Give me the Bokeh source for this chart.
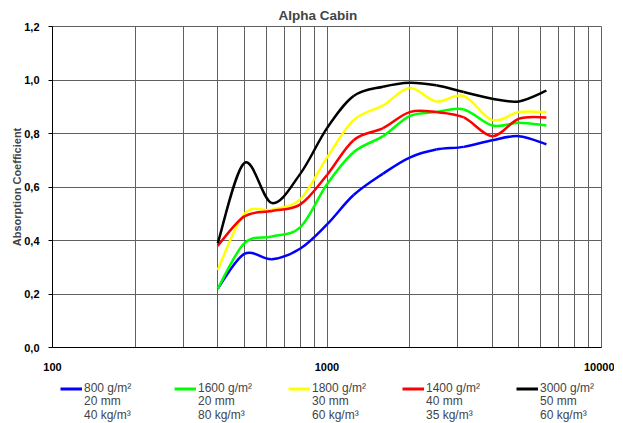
import numpy as np
from bokeh.plotting import figure
from bokeh.layouts import column
from bokeh.models import (ColumnDataSource, Legend, LegendItem, FixedTicker, LogTicker,
                          CustomJSTickFormatter, Range1d)
from bokeh.embed import file_html
from bokeh.resources import INLINE

# ---- data ----
freqs = [400, 500, 630, 800, 1000, 1250, 1600, 2000, 2500, 3150, 4000, 5000, 6300]
s800 = [0.22, 0.35, 0.33, 0.37, 0.46, 0.57, 0.65, 0.71, 0.74, 0.75, 0.775, 0.79, 0.76]
s1600 = [0.22, 0.39, 0.415, 0.45, 0.61, 0.73, 0.79, 0.865, 0.88, 0.89, 0.83, 0.84, 0.83]
s1800 = [0.29, 0.50, 0.515, 0.555, 0.71, 0.85, 0.905, 0.97, 0.92, 0.94, 0.85, 0.88, 0.88]
s1400 = [0.38, 0.49, 0.51, 0.535, 0.645, 0.775, 0.82, 0.88, 0.88, 0.86, 0.79, 0.855, 0.86]
s3000 = [0.39, 0.69, 0.54, 0.65, 0.82, 0.94, 0.975, 0.99, 0.98, 0.955, 0.93, 0.92, 0.96]

series_names = ["800 g/m²", "1600 g/m²", "1800 g/m²", "1400 g/m²", "3000 g/m²"]
series_thickness = ["20 mm", "20 mm", "30 mm", "40 mm", "50 mm"]
series_density = ["40 kg/m³", "80 kg/m³", "60 kg/m³", "35 kg/m³", "60 kg/m³"]
series_values = [s800, s1600, s1800, s1400, s3000]
series_colors = ["#0000FF", "#00FF00", "#FFFF00", "#FF0000", "#000000"]

y_ticks = [0, 0.2, 0.4, 0.6, 0.8, 1.0, 1.2]
title_text = "Alpha Cabin"
y_label = "Absorption Coefficient"

FONT = "Liberation Sans"
GRID = "#606060"
LW = 2.5


def smooth_source(xs, ys):
    """Catmull-Rom style bezier control points (computed in log-x space)."""
    lx = np.log10(np.asarray(xs, dtype=float))
    y = np.asarray(ys, dtype=float)
    n = len(lx)
    px = np.concatenate([[lx[0]], lx, [lx[-1]]])
    py = np.concatenate([[y[0]], y, [y[-1]]])
    cx0 = lx[:-1] + (px[2:n + 1] - px[0:n - 1]) / 6
    cy0 = y[:-1] + (py[2:n + 1] - py[0:n - 1]) / 6
    cx1 = lx[1:] - (px[3:n + 2] - px[1:n]) / 6
    cy1 = y[1:] - (py[3:n + 2] - py[1:n]) / 6
    return ColumnDataSource(dict(
        x0=10 ** lx[:-1], y0=y[:-1], x1=10 ** lx[1:], y1=y[1:],
        cx0=10 ** cx0, cy0=cy0, cx1=10 ** cx1, cy1=cy1))


p = figure(x_axis_type="log", x_range=Range1d(100, 10000), y_range=Range1d(0, 1.2),
           frame_width=549, frame_height=321, output_backend="svg", toolbar_location=None,
           min_border_left=52, min_border_right=13, min_border_top=26, min_border_bottom=24,
           background_fill_color="white", border_fill_color="white")

p.title.text = title_text
p.title.text_font = FONT
p.title.text_font_size = "13.5px"
p.title.text_font_style = "bold"
p.title.align = "left"
p.title.offset = 226
p.title.standoff = 7

# grids
p.xaxis.ticker = LogTicker(num_minor_ticks=10)
p.xgrid.ticker = p.xaxis.ticker
p.xgrid.grid_line_color = GRID
p.xgrid.minor_grid_line_color = GRID
p.xgrid.grid_line_alpha = 1
p.yaxis.ticker = FixedTicker(ticks=y_ticks)
p.ygrid.ticker = FixedTicker(ticks=y_ticks)
p.ygrid.grid_line_color = GRID
p.outline_line_color = GRID

# axes
for ax in (p.xaxis[0], p.yaxis[0]):
    ax.axis_line_color = "black"
    ax.major_label_text_font = FONT
    ax.major_label_text_font_size = "11px"
    ax.major_label_text_font_style = "bold"
    ax.major_label_text_color = "black"
    ax.minor_tick_line_color = None
    ax.major_tick_in = 0

p.xaxis.major_tick_out = 0
p.xaxis.major_label_standoff = 11
p.xaxis.formatter = CustomJSTickFormatter(code="return tick.toFixed(0)")

p.yaxis.major_tick_out = 4
p.yaxis.major_tick_line_color = "black"
p.yaxis.major_label_standoff = 9
p.yaxis.formatter = CustomJSTickFormatter(code="return tick.toFixed(1).replace('.', ',')")
p.yaxis.axis_label = y_label
p.yaxis.axis_label_text_font = FONT
p.yaxis.axis_label_text_font_size = "11px"
p.yaxis.axis_label_text_font_style = "bold"
p.yaxis.axis_label_standoff = -2

for vals, col in zip(series_values, series_colors):
    src = smooth_source(freqs, vals)
    p.bezier(x0="x0", y0="y0", x1="x1", y1="y1", cx0="cx0", cy0="cy0",
             cx1="cx1", cy1="cy1", source=src, line_color=col, line_width=LW)

# ---- legend strip below the chart (its lines lie outside its own view) ----
lg = figure(width=614, height=49, x_range=Range1d(0, 1), y_range=Range1d(0, 1),
            x_axis_location=None, y_axis_location=None,
            output_backend="svg", toolbar_location=None,
            min_border_left=52, min_border_top=0, min_border_right=0, min_border_bottom=0,
            background_fill_color="white", border_fill_color="white", outline_line_color=None)
lg.grid.visible = False

name_items, detail_items = [], []
for name, thick, dens, vals, col in zip(series_names, series_thickness, series_density,
                                        series_values, series_colors):
    shown = lg.line(x=freqs, y=vals, line_color=col, line_width=3)
    hidden = lg.line(x=freqs, y=vals, line_color=col, line_alpha=0)
    name_items.append(LegendItem(label=name, renderers=[shown]))
    detail_items.append(LegendItem(label=thick + "\n" + dens, renderers=[hidden]))

common = dict(orientation="horizontal", location="top_left",
              label_text_font=FONT, label_text_font_size="12px",
              label_text_line_height=1.0833, label_height=13, glyph_height=13,
              label_width=55, label_standoff=2, padding=0,
              border_line_color=None, background_fill_alpha=0)
# first line with the colour swatch
lg.add_layout(Legend(items=name_items, glyph_width=22, spacing=35, margin=8, **common),
              "center")
# second and third lines, one row lower, same column pitch
lg.add_layout(Legend(items=detail_items, glyph_width=9, spacing=48, margin=21, **common),
              "center")

open("out.html", "w").write(file_html(column(p, lg), INLINE))
